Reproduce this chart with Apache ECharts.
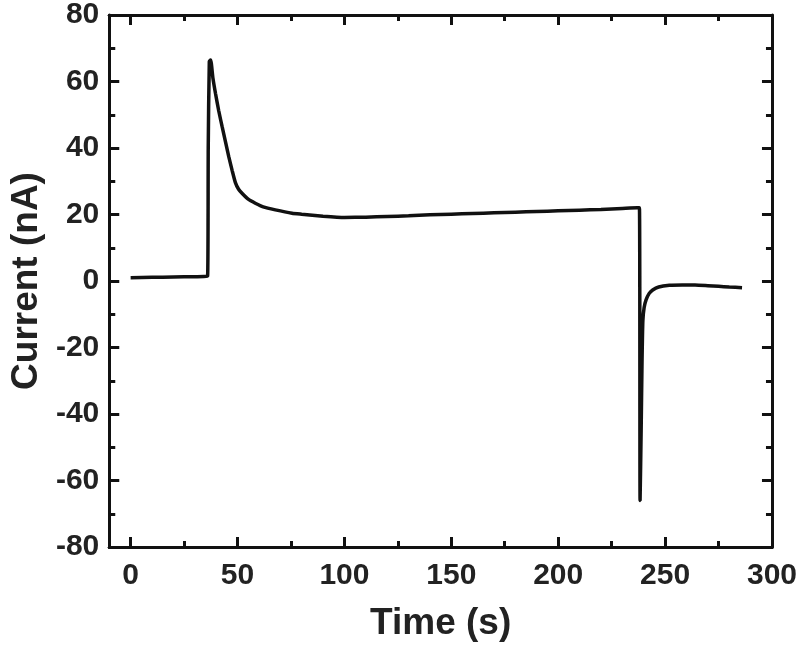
<!DOCTYPE html>
<html>
<head>
<meta charset="utf-8">
<script src="https://cdn.jsdelivr.net/npm/echarts@6/dist/echarts.min.js"></script>
<style>
  html, body { margin: 0; padding: 0; background: #fff; }
  #main { width: 800px; height: 653px; }
</style>
</head>
<body>
<div id="main"></div>
<script>
// chronoamperometry trace
var time = [0, 10, 20, 30, 36.0, 36.3, 36.8, 37.4, 38.5, 39.7, 41.2, 42.8, 44.4, 45.9, 47.5, 49, 50.5, 52.1, 55, 58.3, 62, 67.7, 75.5, 80, 90, 100, 110, 120, 130, 140, 150, 160, 170, 180, 190, 200, 210, 220, 230, 237, 238.0, 238.3, 238.8, 239.2, 239.6, 240.2, 241.1, 242.5, 244.2, 247, 252, 258, 264, 270, 275, 280, 286];
var current = [1.0, 1.1, 1.2, 1.3, 1.5, 40, 66, 66.5, 61, 56.4, 51.2, 46.4, 41.8, 37.4, 33.2, 29.6, 27.6, 26.4, 24.6, 23.4, 22.3, 21.4, 20.4, 20.1, 19.5, 19.1, 19.2, 19.4, 19.6, 19.9, 20.1, 20.3, 20.5, 20.7, 20.9, 21.1, 21.3, 21.5, 21.8, 22, 22, -66, -45, -25, -12, -8, -5.7, -3.8, -2.7, -1.8, -1.3, -1.2, -1.2, -1.4, -1.6, -1.8, -2.0];

var xMajor = [0, 50, 100, 150, 200, 250, 300];
var xMinor = [25, 75, 125, 175, 225, 275];

var ink = '#111';
var font = 'Liberation Sans, Arial, sans-serif';

var pts = time.map(function (t, i) { return [t, current[i]]; });

function xAxisOf(pos, ticks, len, labels) {
  return {
    type: 'value', position: pos, min: -10, max: 300,
    axisLine: { show: true, onZero: false, lineStyle: { color: ink, width: 3 } },
    axisTick: { show: true, inside: true, length: len, customValues: ticks, lineStyle: { color: ink, width: 3 } },
    axisLabel: labels ? {
      show: true, customValues: ticks, margin: 14,
      color: '#222', fontSize: 30, fontWeight: 'bold', fontFamily: font
    } : { show: false },
    splitLine: { show: false }
  };
}

function yAxisOf(pos, labels) {
  return {
    type: 'value', position: pos, min: -80, max: 80, interval: 20,
    axisLine: { show: true, onZero: false, lineStyle: { color: ink, width: 3 } },
    axisTick: { show: true, inside: true, length: 10, lineStyle: { color: ink, width: 3 } },
    minorTick: { show: true, splitNumber: 2, length: 6, lineStyle: { color: ink, width: 3 } },
    axisLabel: labels ? {
      show: true, margin: 10,
      color: '#222', fontSize: 30, fontWeight: 'bold', fontFamily: font
    } : { show: false },
    splitLine: { show: false }
  };
}

var chart = echarts.init(document.getElementById('main'), null, { renderer: 'canvas' });

var bottom = xAxisOf('bottom', xMajor, 10, true);
bottom.name = 'Time (s)';
bottom.nameLocation = 'middle';
bottom.nameGap = 58;
bottom.nameTextStyle = { color: '#222', fontSize: 37, fontWeight: 'bold', fontFamily: font };

var left = yAxisOf('left', true);
left.name = 'Current (nA)';
left.nameLocation = 'middle';
left.nameGap = 52;
left.nameTextStyle = { color: '#222', fontSize: 37, fontWeight: 'bold', fontFamily: font };

var option = {
  backgroundColor: '#ffffff',
  animation: false,
  grid: { left: 107, right: 26, top: 15, bottom: 106, containLabel: false },
  xAxis: [
    bottom,
    xAxisOf('bottom', xMinor, 6, false),
    xAxisOf('top', xMajor, 10, false),
    xAxisOf('top', xMinor, 6, false)
  ],
  yAxis: [left, yAxisOf('right', false)],
  series: [{
    type: 'line',
    xAxisIndex: 0,
    yAxisIndex: 0,
    data: pts,
    showSymbol: false,
    symbol: 'none',
    smooth: 0.2,
    lineStyle: { color: ink, width: 3.5 }
  }]
};

chart.setOption(option);
</script>
</body>
</html>
